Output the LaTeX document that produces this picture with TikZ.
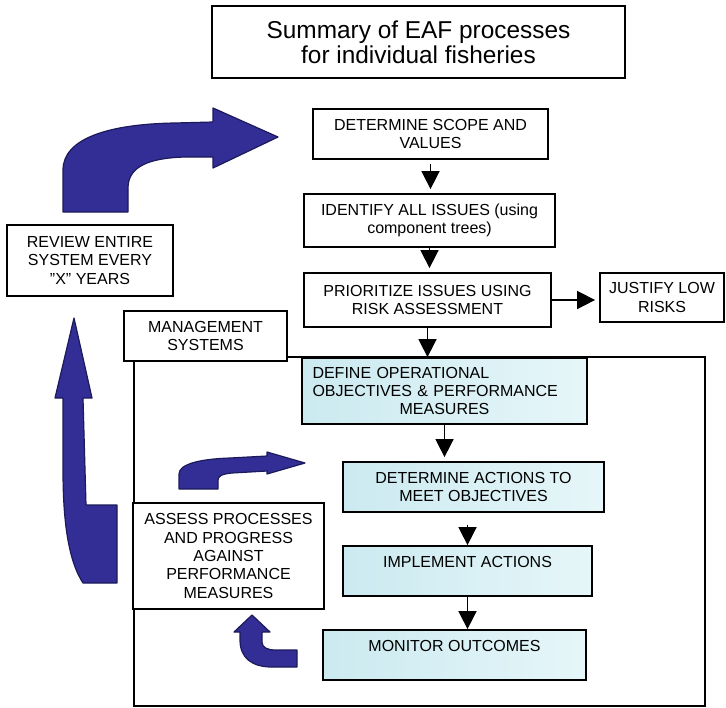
\documentclass[tikz,border=0pt]{standalone}
\usepackage{fontspec}
\setmainfont{Liberation Sans}
\usepackage{tikz}
\usetikzlibrary{calc}
\usetikzlibrary{arrows.meta}
\usetikzlibrary{positioning}
\definecolor{boxblue}{RGB}{203,234,240}
\definecolor{boxblueb}{RGB}{230,246,249}
\definecolor{arrowblue}{RGB}{50,46,150}
\definecolor{arrowedge}{RGB}{28,26,90}
\tikzset{>={Triangle[length=9pt,width=9pt]}}
\tikzstyle{box} = [rectangle, draw=black, line width=0.9pt, fill=white, align=center, inner sep=2pt, font=\fontsize{8}{9.2}\selectfont]
\tikzstyle{bluebox} = [box, left color=boxblue, right color=boxblueb]
\tikzstyle{flow} = [->, draw=black, line width=0.8pt, shorten >=2pt]
\tikzstyle{bigarrow} = [fill=arrowblue, draw=arrowedge, line width=0.6pt, line join=round]

\begin{document}
\begin{tikzpicture}[x=0.5pt, y=-0.5pt]
\useasboundingbox (0,0) rectangle (726,707);
% frame of the management part
\draw [line width=0.9pt] (134,357) rectangle (705,706);

\node [box, minimum width=206.5pt, minimum height=36pt, font=\fontsize{12.2}{12.5}\selectfont] (T) at (418.5,42) {Summary of EAF processes\\for individual fisheries};
\node [box, minimum width=117.5pt, minimum height=25pt] (S) at (430.5,134) {DETERMINE SCOPE AND\\VALUES};
\node [box, minimum width=125.5pt, minimum height=26.5pt] (I) at (429.5,220.5) {IDENTIFY ALL ISSUES (using\\component trees)};
\node [box, minimum width=123.5pt, minimum height=27pt] (P) at (427.5,300) {PRIORITIZE ISSUES USING\\RISK ASSESSMENT};
\node [box, minimum width=62pt, minimum height=24.5pt] (J) at (662,297.5) {JUSTIFY LOW\\RISKS};
\node [box, minimum width=81.5pt, minimum height=25pt] (M) at (205.5,336) {MANAGEMENT\\SYSTEMS};
\node [box, minimum width=83pt, minimum height=35.5pt] (R) at (90,260.5) {REVIEW ENTIRE\\SYSTEM EVERY\\\char34X\char34{} YEARS};

\node [bluebox, minimum width=142.5pt, minimum height=33pt, text width=132pt, align=left] (D) at (444.5,391) {DEFINE OPERATIONAL\\OBJECTIVES \& PERFORMANCE\\\hfill MEASURES\hfill\mbox{}};
\node [bluebox, minimum width=130.5pt, minimum height=25pt] (A) at (473.5,487) {DETERMINE ACTIONS TO\\MEET OBJECTIVES};
\node [bluebox, minimum width=124.5pt, minimum height=25pt, text depth=9pt] (Im) at (467.5,571) {IMPLEMENT ACTIONS};
\node [bluebox, minimum width=131.5pt, minimum height=25pt, text depth=9pt] (Mo) at (454.5,655) {MONITOR OUTCOMES};
\node [box, minimum width=95.5pt, minimum height=53pt] (As) at (228.5,556) {ASSESS PROCESSES\\AND PROGRESS\\AGAINST\\PERFORMANCE\\MEASURES};

\draw [flow, shorten <=2pt] (S.south) -- (S.south |- I.north);
\draw [flow] (I.south) -- (I.south |- P.north);
\draw [flow] (P.east) -- (P.east -| J.west);
\draw [flow, shorten >=0pt] (P.south) -- (P.south |- D.north);
\draw [flow] (D.south) -- (D.south |- A.north);
\draw [flow, shorten <=6pt, shorten >=0pt] (Im.north |- A.south) -- (Im.north);
\draw [flow, shorten >=0pt] (Im.south) -- (Im.south |- Mo.north);

% blue block arrows
\filldraw [bigarrow] (63,212) -- (63,170) .. controls (63,138) and (110,124) .. (175,123) -- (213,122) -- (213,108) -- (278,137) -- (213,168) -- (213,157) -- (185,157) .. controls (150,158) and (128,166) .. (128,188) -- (128,212) -- cycle;
\filldraw [bigarrow] (74,318) -- (92,398) -- (83,398) -- (86,505) -- (117,505) -- (117,583) -- (83,583) .. controls (68,560) and (63,520) .. (63,470) -- (63,398) -- (55,398) -- cycle;
\filldraw [bigarrow] (179,489) -- (179,474) .. controls (179,464) and (200,459) .. (230,458) -- (267,456) -- (267,452) -- (305,463) -- (267,474) -- (267,471) -- (232,473) .. controls (222,474) and (218,476) .. (218,480) -- (218,489) -- cycle;
\filldraw [bigarrow] (252,615) -- (270,632) -- (262,632) -- (262,642) .. controls (262,648) and (268,650) .. (276,650) -- (297,650) -- (297,667) -- (272,667) .. controls (252,667) and (240,658) .. (240,640) -- (240,632) -- (234,632) -- cycle;
\end{tikzpicture}
\end{document}
